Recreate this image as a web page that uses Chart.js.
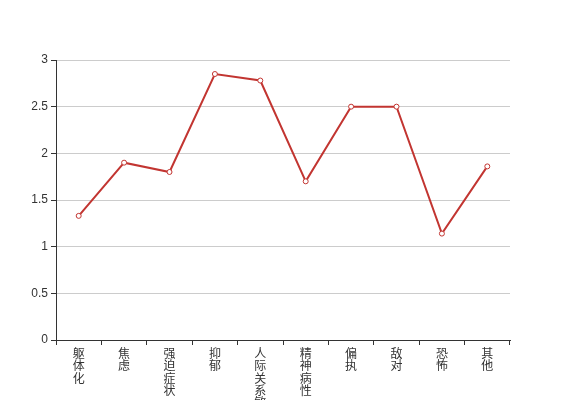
<!DOCTYPE html>
<html>
<head>
<meta charset="utf-8">
<script src="https://cdn.jsdelivr.net/npm/chart.js@4"></script>
<style>
  html, body { margin: 0; padding: 0; background: #fff; }
  #wrap { width: 567px; height: 400px; }
</style>
</head>
<body>
<div id="wrap"><canvas id="c" width="567" height="400"></canvas></div>
<script>
// SCL-90 factor scores
const categories = ['躯体化', '焦虑', '强迫症状', '抑郁', '人际关系敏感', '精神病性', '偏执', '敌对', '恐怖', '其他'];
const scores = [1.33, 1.9, 1.8, 2.85, 2.78, 1.7, 2.5, 2.5, 1.14, 1.86];
const yTicks = [0, 0.5, 1, 1.5, 2, 2.5, 3];

const FONT = "'Liberation Sans', 'Noto Sans CJK SC', sans-serif";
const RED = '#c23531';

// vertical labels: one character per line
const labels = categories.map(s => s.split(''));

new Chart(document.getElementById('c'), {
    type: 'line',
    data: {
        labels: labels,
        datasets: [{
            data: scores,
            borderColor: RED,
            borderWidth: 2,
            pointRadius: 2.5,
            pointBorderWidth: 1,
            pointBackgroundColor: '#fff',
            pointBorderColor: RED,
            tension: 0,
            fill: false
        }]
    },
    options: {
        responsive: false,
        animation: false,
        layout: { padding: { top: 60, right: 57, left: 0, bottom: 0 } },
        plugins: { legend: { display: false }, tooltip: { enabled: false } },
        scales: {
            x: {
                offset: true,
                grid: {
                    offset: true,
                    drawOnChartArea: false,
                    drawTicks: true,
                    tickLength: 5,
                    tickColor: '#333'
                },
                border: { color: '#333', width: 1 },
                ticks: {
                    autoSkip: false,
                    maxRotation: 0,
                    minRotation: 0,
                    padding: 3,
                    color: '#333',
                    font: { family: FONT, size: 12, lineHeight: 1.04 }
                },
                afterFit: (scale) => { scale.height = 60; }
            },
            y: {
                min: 0,
                max: 3,
                afterBuildTicks: (scale) => { scale.ticks = yTicks.map(v => ({ value: v })); },
                grid: {
                    color: '#ccc',
                    tickLength: 5,
                    tickColor: '#333'
                },
                border: { color: '#333', width: 1 },
                ticks: {
                    padding: 3,
                    color: '#333',
                    font: { family: FONT, size: 12 },
                    callback: (v) => String(v)
                },
                afterFit: (scale) => { scale.width = 56; }
            }
        }
    }
});
</script>
</body>
</html>
